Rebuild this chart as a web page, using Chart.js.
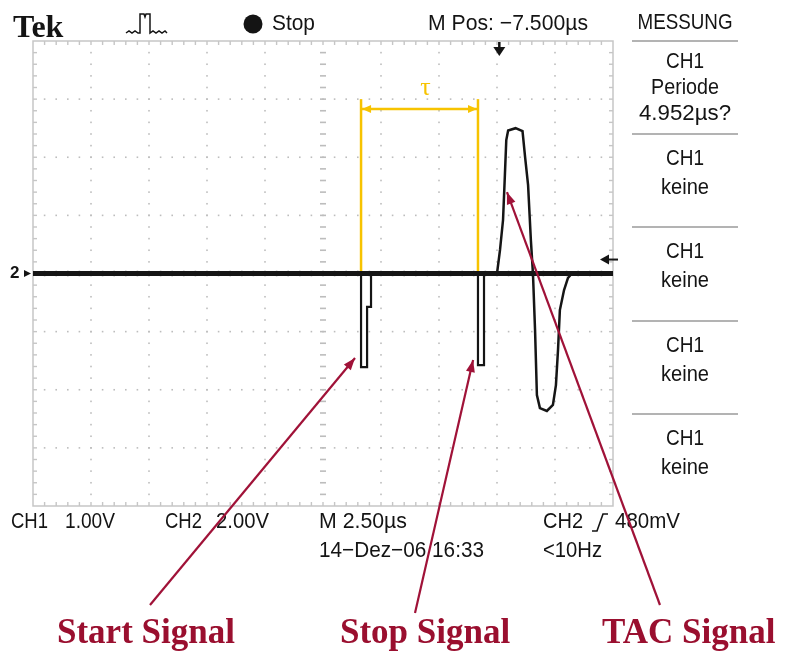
<!DOCTYPE html>
<html>
<head>
<meta charset="utf-8">
<title>Tek scope - Start/Stop/TAC</title>
<script src="https://cdn.jsdelivr.net/npm/chart.js@4.4.1/dist/chart.umd.min.js"></script>
<style>
  html, body { margin: 0; padding: 0; background: #fff; }
  #wrap { position: relative; width: 789px; height: 655px; }
</style>
</head>
<body>
<div id="wrap"><canvas id="scope" width="789" height="655"></canvas></div>
<script>
// Trace data: time in µs (0 = screen centre), CH2 voltage in V
const baseTime = [-12.5, 12.5];
const baseVolt = [0, 0];
const startTime = [1.64, 1.64, 1.90, 1.90, 2.07, 2.07];
const startVolt = [0, -3.22, -3.22, -1.15, -1.15, 0];
const stopTime = [6.68, 6.68, 6.94, 6.94];
const stopVolt = [0, -3.15, -3.15, 0];
const tacTime = [7.50, 7.63, 7.76, 7.84, 7.90, 7.98, 8.30, 8.60, 8.71, 8.84, 8.96, 9.05,
                 9.14, 9.22, 9.35, 9.65, 9.91, 10.04, 10.13, 10.21, 10.39, 10.56, 10.73];
const tacVolt = [0, 0.81, 1.84, 3.39, 4.59, 4.92, 5.00, 4.90, 4.01, 3.04, 1.15, 0,
                 -1.94, -4.18, -4.63, -4.73, -4.52, -3.84, -2.63, -1.26, -0.57, -0.15, 0];

// Cursors (tau) and trigger
const cursorTimes = [1.64, 6.68];
const cursorTop = 6.0;
const cursorBar = 5.66;
const triggerTime = 7.6;
const triggerLevel = 0.48;

// Scope settings
const timePerDiv = 2.5;
const voltPerDiv = 2.0;
const xDivs = 10;
const yDivs = 8;

// Text on screen
const measureRows = [
  ['CH1', 'Periode', '4.952µs?'],
  ['CH1', 'keine'],
  ['CH1', 'keine'],
  ['CH1', 'keine'],
  ['CH1', 'keine']
];

const callouts = [
  { label: 'Start Signal', labelX: 57, tail: [150, 605], at: [1.38, -2.91] },
  { label: 'Stop Signal', labelX: 340, tail: [415, 613], at: [6.47, -2.98] },
  { label: 'TAC Signal', labelX: 602, tail: [660, 605], at: [7.93, 2.80] }
];

const TRACE = '#151515';
const YELLOW = '#f7c300';
const RED = '#a01238';
const SCOPE_FONT = '"Liberation Sans", Arial, sans-serif';

function points(xs, ys) {
  return xs.map((x, i) => ({ x: x, y: ys[i] }));
}

function line(data, color, width) {
  return {
    data: data,
    showLine: true,
    pointRadius: 0,
    borderColor: color,
    borderWidth: width,
    tension: 0,
    borderJoinStyle: 'miter'
  };
}

// draw text squeezed to a given width (scope font is condensed)
function fitText(ctx, s, x, y, w, size, align) {
  ctx.save();
  ctx.font = size + 'px ' + SCOPE_FONT;
  ctx.textBaseline = 'middle';
  ctx.textAlign = 'left';
  const m = ctx.measureText(s).width;
  const sx = w ? w / m : 0.88;
  const dx = align === 'center' ? -m * sx / 2 : 0;
  ctx.translate(x + dx, y);
  ctx.scale(sx, 1);
  ctx.fillText(s, 0, 0);
  ctx.restore();
}

function arrowHead(ctx, x0, y0, x1, y1, len, half) {
  const a = Math.atan2(y1 - y0, x1 - x0);
  ctx.beginPath();
  ctx.moveTo(x1, y1);
  ctx.lineTo(x1 - len * Math.cos(a) + half * Math.sin(a), y1 - len * Math.sin(a) - half * Math.cos(a));
  ctx.lineTo(x1 - len * Math.cos(a) - half * Math.sin(a), y1 - len * Math.sin(a) + half * Math.cos(a));
  ctx.closePath();
  ctx.fill();
}

// Graticule: dotted divisions, centre crosshair ticks, border ticks
const graticule = {
  id: 'graticule',
  beforeDatasetsDraw(chart) {
    const ctx = chart.ctx;
    const { left, right, top, bottom } = chart.chartArea;
    const xs = chart.scales.x, ys = chart.scales.y;
    ctx.save();
    ctx.fillStyle = '#bdbdbd';
    for (let i = 1; i < xDivs; i++) {
      const px = xs.getPixelForValue(xs.min + i * timePerDiv);
      for (let j = 1; j < yDivs * 5; j++) {
        const py = ys.getPixelForValue(ys.max - j * voltPerDiv / 5);
        if (i === xDivs / 2) ctx.fillRect(px - 3, py - 0.8, 6, 1.6);
        else ctx.fillRect(px - 0.8, py - 0.8, 1.6, 1.6);
      }
    }
    for (let j = 1; j < yDivs; j++) {
      const py = ys.getPixelForValue(ys.max - j * voltPerDiv);
      for (let i = 1; i < xDivs * 5; i++) {
        const px = xs.getPixelForValue(xs.min + i * timePerDiv / 5);
        if (j === yDivs / 2) ctx.fillRect(px - 0.8, py - 3, 1.6, 6);
        else ctx.fillRect(px - 0.8, py - 0.8, 1.6, 1.6);
      }
    }
    // border with small ticks
    ctx.strokeStyle = '#c6c6c6';
    ctx.lineWidth = 1.5;
    ctx.strokeRect(left, top, right - left, bottom - top);
    ctx.fillStyle = '#c6c6c6';
    for (let i = 1; i < xDivs * 5; i++) {
      const px = xs.getPixelForValue(xs.min + i * timePerDiv / 5);
      ctx.fillRect(px - 0.7, top, 1.4, 4);
      ctx.fillRect(px - 0.7, bottom - 4, 1.4, 4);
    }
    for (let j = 1; j < yDivs * 5; j++) {
      const py = ys.getPixelForValue(ys.max - j * voltPerDiv / 5);
      ctx.fillRect(left, py - 0.7, 4, 1.4);
      ctx.fillRect(right - 4, py - 0.7, 4, 1.4);
    }
    ctx.restore();
  }
};

// Screen text, markers, cursor arrows and the red callouts
const overlay = {
  id: 'overlay',
  afterDraw(chart) {
    const ctx = chart.ctx;
    const { right } = chart.chartArea;
    const xs = chart.scales.x, ys = chart.scales.y;
    ctx.save();
    ctx.fillStyle = '#141414';
    ctx.strokeStyle = '#141414';

    // header
    ctx.font = 'bold 32px "Liberation Serif", "Times New Roman", serif';
    ctx.textBaseline = 'alphabetic';
    ctx.fillText('Tek', 13, 37);

    ctx.lineWidth = 1.5;
    ctx.beginPath();
    ctx.moveTo(126, 33); ctx.lineTo(129, 31); ctx.lineTo(132, 33); ctx.lineTo(135, 31); ctx.lineTo(138, 33);
    ctx.lineTo(140, 33); ctx.lineTo(140, 14); ctx.lineTo(144, 14); ctx.lineTo(145, 17); ctx.lineTo(146, 14);
    ctx.lineTo(150, 14); ctx.lineTo(150, 33); ctx.lineTo(153, 31); ctx.lineTo(156, 33); ctx.lineTo(159, 31);
    ctx.lineTo(162, 33); ctx.lineTo(165, 31); ctx.lineTo(167, 33);
    ctx.stroke();

    ctx.beginPath();
    ctx.arc(253, 24, 9.5, 0, Math.PI * 2);
    ctx.fill();
    fitText(ctx, 'Stop', 272, 24, 43, 22);
    fitText(ctx, 'M Pos: \u22127.500µs', 428, 24, 160, 22);

    // trigger position arrow (top) and trigger level arrow (right)
    const tx = xs.getPixelForValue(triggerTime);
    ctx.lineWidth = 2.5;
    ctx.beginPath(); ctx.moveTo(tx, 42); ctx.lineTo(tx, 50); ctx.stroke();
    ctx.beginPath(); ctx.moveTo(tx - 6, 47); ctx.lineTo(tx + 6, 47); ctx.lineTo(tx, 56); ctx.closePath(); ctx.fill();
    const ty = ys.getPixelForValue(triggerLevel);
    ctx.lineWidth = 2;
    ctx.beginPath(); ctx.moveTo(right - 5, ty); ctx.lineTo(right + 5, ty); ctx.stroke();
    ctx.beginPath(); ctx.moveTo(right - 4, ty - 5); ctx.lineTo(right - 4, ty + 5); ctx.lineTo(right - 13, ty); ctx.closePath(); ctx.fill();

    // channel 2 ground marker
    const gy = ys.getPixelForValue(0);
    ctx.font = 'bold 17px ' + SCOPE_FONT;
    ctx.textBaseline = 'middle';
    ctx.fillText('2', 10, gy);
    ctx.beginPath(); ctx.moveTo(24, gy - 3.5); ctx.lineTo(31, gy); ctx.lineTo(24, gy + 3.5); ctx.closePath(); ctx.fill();

    // measurement panel
    const panelX = 685;
    fitText(ctx, 'MESSUNG', panelX, 23, 95, 22, 'center');
    const seps = [41, 134, 227, 321, 414];
    ctx.strokeStyle = '#9a9a9a';
    ctx.lineWidth = 1.5;
    seps.forEach(y => { ctx.beginPath(); ctx.moveTo(632, y); ctx.lineTo(738, y); ctx.stroke(); });
    const widths = { 'CH1': 38, 'Periode': 68, '4.952µs?': 92, 'keine': 48 };
    measureRows.forEach((row, r) => {
      const y0 = seps[r];
      if (row.length === 3) {
        row.forEach((s, k) => fitText(ctx, s, panelX, y0 + 21 + k * 26, widths[s], 22, 'center'));
      } else {
        fitText(ctx, row[0], panelX, y0 + 25, widths[row[0]], 22, 'center');
        fitText(ctx, row[1], panelX, y0 + 54, widths[row[1]], 22, 'center');
      }
    });

    // footer settings
    fitText(ctx, 'CH1', 11, 522, 37, 22);
    fitText(ctx, '1.00V', 65, 522, 50, 22);
    fitText(ctx, 'CH2', 165, 522, 37, 22);
    fitText(ctx, '2.00V', 216, 522, 53, 22);
    fitText(ctx, 'M 2.50µs', 319, 522, 88, 22);
    fitText(ctx, 'CH2', 543, 522, 40, 22);
    fitText(ctx, '480mV', 615, 522, 65, 22);
    fitText(ctx, '14\u2212Dez\u221206 16:33', 319, 551, 165, 22);
    fitText(ctx, '<10Hz', 543, 551, 59, 22);
    ctx.strokeStyle = '#141414';
    ctx.lineWidth = 1.6;
    ctx.beginPath(); ctx.moveTo(592, 531); ctx.lineTo(597, 531); ctx.lineTo(603, 514); ctx.lineTo(608, 514); ctx.stroke();

    // tau bar between the cursors
    const c0 = xs.getPixelForValue(cursorTimes[0]);
    const c1 = xs.getPixelForValue(cursorTimes[1]);
    const by = ys.getPixelForValue(cursorBar);
    ctx.fillStyle = YELLOW;
    arrowHead(ctx, c1, by, c0 + 1, by, 9, 4);
    arrowHead(ctx, c0, by, c1 - 1, by, 9, 4);
    ctx.font = '26px "Liberation Serif", "DejaVu Serif", serif';
    ctx.textAlign = 'center';
    ctx.textBaseline = 'middle';
    ctx.fillText('\u03c4', (c0 + c1) / 2 + 6, ys.getPixelForValue(cursorTop) - 11);

    // red callouts
    ctx.strokeStyle = RED;
    ctx.fillStyle = RED;
    ctx.lineWidth = 2.2;
    callouts.forEach(c => {
      const hx = xs.getPixelForValue(c.at[0]);
      const hy = ys.getPixelForValue(c.at[1]);
      ctx.beginPath(); ctx.moveTo(c.tail[0], c.tail[1]); ctx.lineTo(hx, hy); ctx.stroke();
      arrowHead(ctx, c.tail[0], c.tail[1], hx, hy, 12, 4.5);
    });
    ctx.fillStyle = '#9a0f2f';
    ctx.font = 'bold 35px "Liberation Serif", "Times New Roman", serif';
    ctx.textAlign = 'left';
    ctx.textBaseline = 'alphabetic';
    callouts.forEach(c => ctx.fillText(c.label, c.labelX, 643));
    ctx.restore();
  }
};

const datasets = [
  line(points(baseTime, baseVolt), TRACE, 5),
  line(points(startTime, startVolt), TRACE, 2.2),
  line(points(stopTime, stopVolt), TRACE, 2.2),
  line(points(tacTime, tacVolt), TRACE, 2.5),
  line(points([cursorTimes[0], cursorTimes[0]], [0, cursorTop]), YELLOW, 2.5),
  line(points([cursorTimes[1], cursorTimes[1]], [0, cursorTop]), YELLOW, 2.5),
  line(points(cursorTimes, [cursorBar, cursorBar]), YELLOW, 2.5)
];

new Chart(document.getElementById('scope'), {
  type: 'scatter',
  data: { datasets: datasets },
  options: {
    responsive: false,
    animation: false,
    devicePixelRatio: 1,
    layout: { padding: { left: 33, top: 41, right: 176, bottom: 149 } },
    scales: {
      x: { type: 'linear', min: -xDivs / 2 * timePerDiv, max: xDivs / 2 * timePerDiv, display: false },
      y: { type: 'linear', min: -yDivs / 2 * voltPerDiv, max: yDivs / 2 * voltPerDiv, display: false }
    },
    plugins: {
      legend: { display: false },
      tooltip: { enabled: false }
    }
  },
  plugins: [graticule, overlay]
});
</script>
</body>
</html>
